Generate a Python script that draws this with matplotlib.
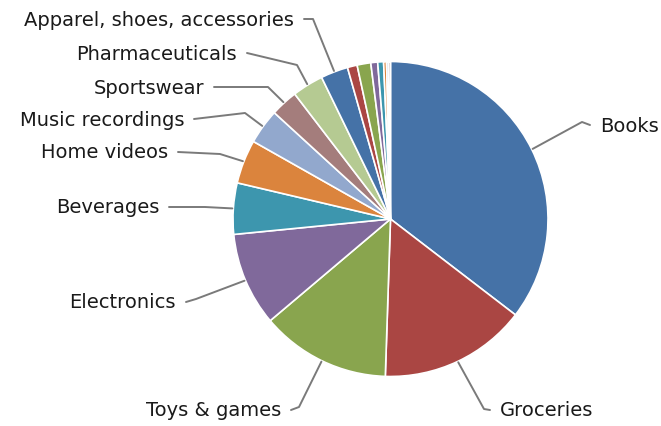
import matplotlib
matplotlib.use("Agg")
import matplotlib.pyplot as plt
import numpy as np

# Data (percent share)
categories = ["Books", "Groceries", "Toys & games", "Electronics", "Beverages",
              "Home videos", "Music recordings", "Sportswear", "Pharmaceuticals",
              "Apparel, shoes, accessories", "", "", "", "", "", "", ""]
values = [35.4, 15.1, 13.3, 9.6, 5.25, 4.5, 3.6, 2.8, 3.2, 2.8,
          1.0, 1.4, 0.7, 0.6, 0.3, 0.2, 0.2]

palette = ['#4572A7', '#AA4643', '#89A54E', '#80699B', '#3D96AE',
           '#DB843D', '#92A8CD', '#A47D7C', '#B5CA92']
colors = [palette[i % len(palette)] for i in range(len(values))]

W, H = 661, 427
fig = plt.figure(figsize=(W / 100, H / 100), dpi=100)
ax = fig.add_axes([0, 0, 1, 1])
ax.set_xlim(0, W)
ax.set_ylim(0, H)
ax.set_aspect('equal')
ax.axis('off')

cx, cy, r = 390.5, H - 220, 157.5
wedges, _ = ax.pie(values, colors=colors, startangle=90, counterclock=False,
                   center=(cx, cy), radius=r,
                   wedgeprops=dict(edgecolor='white', linewidth=1.2))
ax.set_xlim(0, W)
ax.set_ylim(0, H)

# label layout: (text x, text y in pixels from top, ha, elbow x, elbow y)
layout = {
    "Books": (600, 126, 'left', 582, 123),
    "Groceries": (500, 411, 'left', 484, 410),
    "Toys & games": (281, 411, 'right', 299, 408),
    "Electronics": (176, 303, 'right', 196, 300),
    "Beverages": (159, 208, 'right', 205, 208),
    "Home videos": (168, 153, 'right', 220, 155),
    "Music recordings": (184, 120, 'right', 245, 114),
    "Sportswear": (204, 88, 'right', 268, 88),
    "Pharmaceuticals": (237, 54, 'right', 297, 66),
    "Apparel, shoes, accessories": (294, 20, 'right', 313, 20),
}

for w, name in zip(wedges, categories):
    if not name:
        continue
    tx, ty, ha, ex, ey = layout[name]
    mid = np.deg2rad((w.theta1 + w.theta2) / 2)
    px = cx + (r + 1) * np.cos(mid)
    py = cy + (r + 1) * np.sin(mid)
    sx = tx + (10 if ha == 'right' else -10)
    ax.plot([sx, ex, px], [H - ty, H - ey, py], color='#7a7a7a', lw=1.4,
            solid_capstyle='round', zorder=1)
    ax.text(tx, H - ty, name, ha=ha, va='center', fontsize=14,
            color='#1a1a1a', family='DejaVu Sans')

fig.savefig("out.png", dpi=100)
